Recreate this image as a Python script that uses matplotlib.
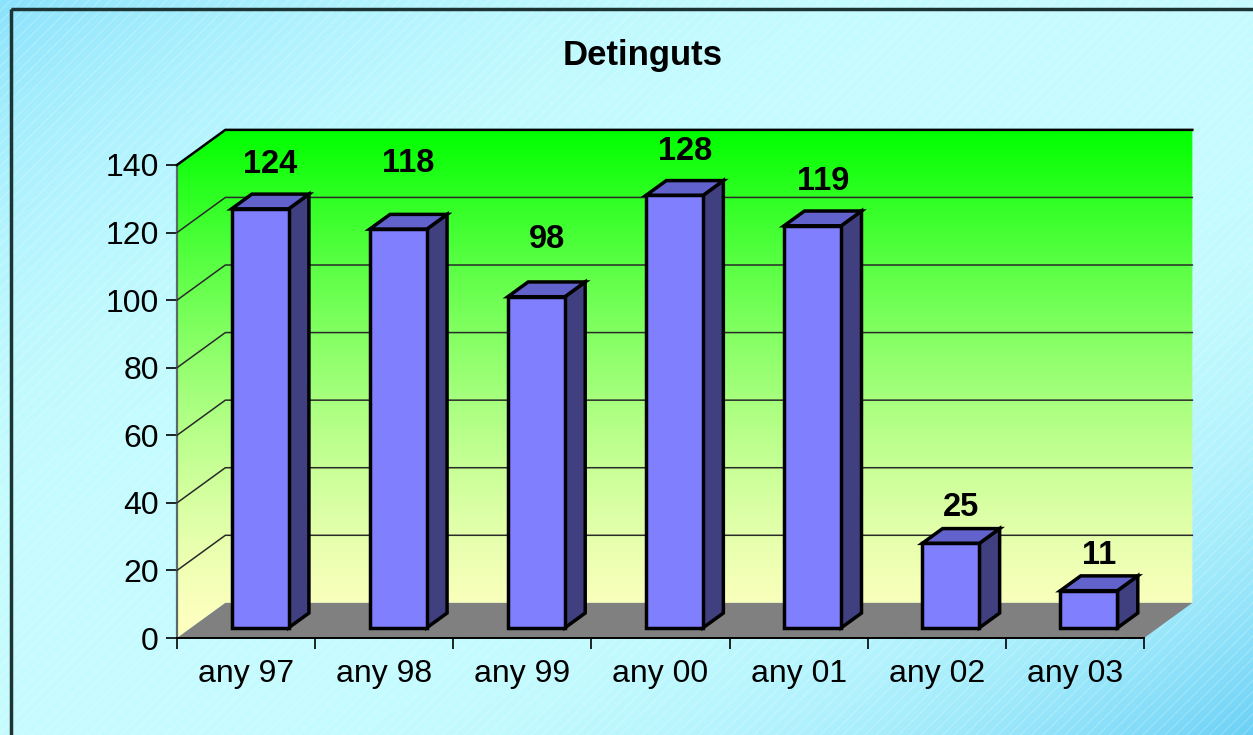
#!/usr/bin/env python3
# -*- coding: utf-8 -*-
# Detinguts per any: columnes 3D a l'estil d'Excel
import numpy as np
import matplotlib
matplotlib.use("Agg")
import matplotlib.pyplot as plt
from matplotlib.patches import Polygon, Rectangle

plt.rcParams['font.family'] = ['Liberation Sans', 'DejaVu Sans']

categories = ["any 97", "any 98", "any 99", "any 00", "any 01", "any 02", "any 03"]
detinguts = [124, 118, 98, 128, 119, 25, 11]
y_ticks = [0, 20, 40, 60, 80, 100, 120, 140]
title = "Detinguts"

# desplaçament de cada etiqueta sobre la barra (unitats de valor)
label_dy = [13.5, 20, 17.5, 13.5, 13.5, 11, 11]

DX, DY = 0.35, 10.4    # profunditat de la caixa 3D, en unitats de dades
D0, D1 = 0.29, 0.71    # on comença i acaba la barra dins la profunditat
BAR_W = 0.413

def background(fig):
	bg = fig.add_axes([0, 0, 1, 1])
	bg.set_axis_off()
	h, w = 735, 1253
	yy, xx = np.mgrid[0:h, 0:w]
	t = (xx / w + yy / h) / 2
	s = np.abs(2 * t - 1) ** 3
	light = np.array([198, 252, 255]) / 255
	blue_tl = np.array([138, 226, 252]) / 255
	blue_br = np.array([106, 208, 246]) / 255
	blue = np.where((t < 0.5)[..., None], blue_tl, blue_br)
	img = light + (blue - light) * s[..., None]
	bg.imshow(img, extent=(0, w, h, 0), aspect='auto')
	bg.set_xlim(0, w)
	bg.set_ylim(h, 0)
	bg.add_patch(Rectangle((0, 0), 1, 1, transform=bg.transAxes, facecolor='none',
		edgecolor=(1, 1, 1, 0.2), hatch='///', lw=0))
	bg.add_patch(Rectangle((11, 9), w, h, facecolor='none', edgecolor='#1c3434', lw=2.5))

def walls(ax):
	n = len(categories)
	x0, x1 = -0.5, n - 0.5
	top = y_ticks[-1]
	grad = np.linspace(0, 1, 256)[:, None, None] ** 1.4
	c_bottom = np.array([255, 255, 192]) / 255
	c_top = np.array([0, 255, 0]) / 255
	img = c_bottom + (c_top - c_bottom) * grad
	im = ax.imshow(img, extent=(x0, x1 + DX, 0, top + DY), origin='lower',
		aspect='auto', zorder=1)
	wall = Polygon([(x0, 0), (x0, top), (x0 + DX, top + DY), (x1 + DX, top + DY),
		(x1 + DX, DY), (x0 + DX, DY)], closed=True, facecolor='none',
		edgecolor='none', clip_on=False)
	ax.add_patch(wall)
	im.set_clip_path(wall)
	im.set_clip_box(ax.figure.bbox)

	floor = Polygon([(x0, 0), (x1, 0), (x1 + DX, DY), (x0 + DX, DY)], closed=True,
		facecolor='#808080', edgecolor='none', zorder=2, clip_on=False)
	ax.add_patch(floor)

	for v in y_ticks[1:]:
		last = v == top
		ax.plot([x0, x0 + DX, x1 + DX], [v, v + DY, v + DY],
			color='black' if last else '#2a2a2a', lw=1.8 if last else 1.1,
			clip_on=False, zorder=3)

def bars(ax):
	for i, v in enumerate(detinguts):
		xa = i - BAR_W / 2
		xb = i + BAR_W / 2
		f0x, f0y = D0 * DX, D0 * DY
		f1x, f1y = D1 * DX, D1 * DY
		front = [(xa + f0x, f0y), (xb + f0x, f0y), (xb + f0x, v + f0y), (xa + f0x, v + f0y)]
		side = [(xb + f0x, f0y), (xb + f1x, f1y), (xb + f1x, v + f1y), (xb + f0x, v + f0y)]
		topf = [(xa + f0x, v + f0y), (xb + f0x, v + f0y), (xb + f1x, v + f1y), (xa + f1x, v + f1y)]
		for pts, col in [(side, '#404080'), (topf, '#6262CC'), (front, '#8080FF')]:
			ax.add_patch(Polygon(pts, closed=True, facecolor=col, edgecolor='black',
				lw=2.5, joinstyle='miter', zorder=4, clip_on=False))
		ax.text(i + 0.5 * (D0 + D1) * DX, v + label_dy[i], str(v), ha='center',
			va='baseline', fontsize=23.5, fontweight='bold', zorder=6)

def plot():
	fig = plt.figure(figsize=(12.53, 7.35), dpi=100)
	background(fig)
	ax = fig.add_axes([177 / 1253, 97 / 735, 967 / 1253, 473 / 735])
	ax.patch.set_visible(False)
	walls(ax)
	bars(ax)
	ax.set_xlim(-0.5, len(categories) - 0.5)
	ax.set_ylim(y_ticks[0], y_ticks[-1])

	ax.set_yticks(y_ticks)
	ax.set_xticks(range(len(categories)), categories)
	ax.set_xticks(np.arange(-0.5, len(categories), 1), minor=True)
	ax.tick_params(axis='y', length=8, width=1.2, labelsize=23, pad=5)
	ax.tick_params(axis='x', which='major', length=0, labelsize=23, pad=15)
	ax.tick_params(axis='x', which='minor', length=8, width=1.2)
	ax.spines['top'].set_visible(False)
	ax.spines['right'].set_visible(False)
	ax.spines['left'].set_color('#5a6a6a')
	ax.spines['left'].set_linewidth(1.6)
	ax.spines['bottom'].set_linewidth(1.4)

	fig.text(643 / 1253, 1 - 55 / 735, title, ha='center', va='center',
		fontsize=25, fontweight='bold')
	fig.savefig("out.png", dpi=100)

def main():
	plot()

if __name__ == '__main__':
	main()
